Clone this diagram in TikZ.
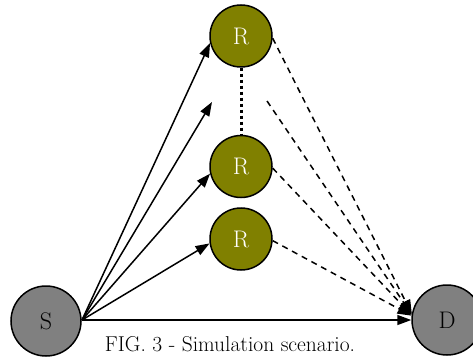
\documentclass[tikz,border=0pt]{standalone}
\usetikzlibrary{arrows.meta}
\definecolor{relayolive}{HTML}{808000}
\definecolor{endgray}{HTML}{808080}
\begin{document}
\begin{tikzpicture}[x=1pt,y=-1pt,
  endnode/.style={circle,draw=black,line width=1.5pt,fill=endgray,minimum size=70pt,inner sep=0pt,font=\fontsize{24}{24}\selectfont},
  relay/.style={circle,draw=black,line width=1.5pt,fill=relayolive,minimum size=62pt,inner sep=0pt,text=white,font=\fontsize{24}{24}\selectfont},
  link/.style={line width=1.5pt,-{Triangle[length=14pt,width=10pt]}},
  relaylink/.style={link,dash pattern=on 6pt off 5pt},
  chain/.style={line width=3pt,dash pattern=on 3pt off 3pt},
  caption/.style={font=\fontsize{21.5}{21.5}\selectfont}]
\useasboundingbox (0,0) rectangle (473,358);
\node[endnode] (S) at (46,321) {S};
\node[endnode] (D) at (447,320) {D};
\node[relay] (R1) at (241,36) {R};
\node[relay] (R2) at (241,166.5) {R};
\node[relay] (R3) at (241,239) {R};
\coordinate (src) at (82,320);
\coordinate (mid) at (212,102);
\coordinate (midout) at (267,101);
\draw[chain] (R1.south) -- (R2.north);
\draw[link] (src) -- (R1.193);
\draw[link] (src) -- (mid);
\draw[link] (src) -- (R2.193);
\draw[link] (src) -- (R3.188);
\draw[link] (src) -- (D.west);
\draw[relaylink] (R1.-4) -- (D.170);
\draw[relaylink] (midout) -- (D.171);
\draw[relaylink] (R2.-3) -- (D.172);
\draw[relaylink] (R3.-3) -- (D.173);
\node[caption] (cap) at (230,344) {FIG. 3 - Simulation scenario.};
\end{tikzpicture}
\end{document}
